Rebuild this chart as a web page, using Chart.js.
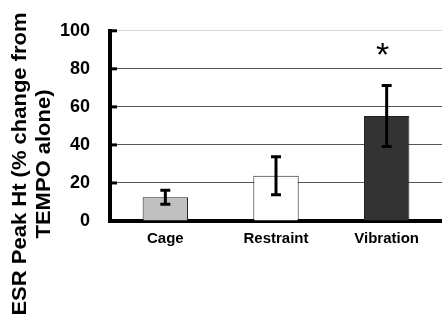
<!DOCTYPE html>
<html>
<head>
<meta charset="utf-8">
<script src="https://cdn.jsdelivr.net/npm/chart.js@4.4.1/dist/chart.umd.min.js"></script>
<style>
    html, body { margin: 0; padding: 0; background: #fff; }
    #wrap { width: 442px; height: 320px; position: relative; }
</style>
</head>
<body>
<div id="wrap"><canvas id="esrChart"></canvas></div>
<script>
// Données du graphique
const categories = ['Cage', 'Restraint', 'Vibration'];
const peakValues = [12.5, 23.8, 55.2];
const peakErrors = [3.7, 10, 16];
const barColors = ['#c0c0c0', '#ffffff', '#333333'];
const yTitleLines = ['ESR Peak Ht (% change from', 'TEMPO alone)'];
const markText = ['', '', '*'];
const markValue = 88;

const fontFamily = '"Liberation Sans", Arial, sans-serif';

// Barres d'erreur + astérisque
const errorBarsPlugin = {
    id: 'errorBars',
    afterDatasetsDraw(chart) {
        const ctx = chart.ctx;
        const meta = chart.getDatasetMeta(0);
        const y = chart.scales.y;
        ctx.save();
        ctx.strokeStyle = '#000';
        ctx.lineWidth = 3;
        meta.data.forEach((bar, i) => {
            const top = y.getPixelForValue(peakValues[i] + peakErrors[i]);
            const bottom = y.getPixelForValue(peakValues[i] - peakErrors[i]);
            ctx.beginPath();
            ctx.moveTo(bar.x, top);
            ctx.lineTo(bar.x, bottom);
            ctx.moveTo(bar.x - 5, top);
            ctx.lineTo(bar.x + 5, top);
            ctx.moveTo(bar.x - 5, bottom);
            ctx.lineTo(bar.x + 5, bottom);
            ctx.stroke();
            if (markText[i]) {
                ctx.fillStyle = '#000';
                ctx.font = '34px ' + fontFamily;
                ctx.textAlign = 'center';
                ctx.textBaseline = 'alphabetic';
                ctx.fillText(markText[i], bar.x - 4, y.getPixelForValue(markValue) + 12);
            }
        });
        ctx.restore();
    }
};

// Petits traits de graduation vers l'intérieur + titre de l'axe Y
const axisPlugin = {
    id: 'axisExtras',
    afterDraw(chart) {
        const ctx = chart.ctx;
        const y = chart.scales.y;
        const left = chart.chartArea.left;
        ctx.save();
        ctx.strokeStyle = '#000';
        ctx.lineWidth = 3;
        y.ticks.forEach(t => {
            const py = y.getPixelForValue(t.value);
            ctx.beginPath();
            ctx.moveTo(left - 2, py);
            ctx.lineTo(left + 7, py);
            ctx.stroke();
        });

        const midY = chart.height / 2 + 4;
        ctx.fillStyle = '#000';
        ctx.font = 'bold 22px ' + fontFamily;
        ctx.textAlign = 'center';
        ctx.textBaseline = 'alphabetic';
        yTitleLines.forEach((line, i) => {
            ctx.save();
            ctx.translate(26 + i * 24, midY);
            ctx.rotate(-Math.PI / 2);
            ctx.scale(1, 0.88);
            ctx.fillText(line, 0, 0);
            ctx.restore();
        });
        ctx.restore();
    }
};

new Chart(document.getElementById('esrChart'), {
    type: 'bar',
    data: {
        labels: categories,
        datasets: [{
            data: peakValues,
            backgroundColor: barColors,
            borderColor: '#222',
            borderWidth: 1,
            barPercentage: 0.41,
            categoryPercentage: 1
        }]
    },
    options: {
        responsive: true,
        maintainAspectRatio: false,
        animation: false,
        layout: {
            padding: { top: 19, right: 0, left: 0, bottom: 0 }
        },
        plugins: {
            legend: { display: false },
            tooltip: { enabled: false }
        },
        scales: {
            x: {
                afterFit(scale) { scale.height = 99; },
                grid: { display: false, drawTicks: false },
                border: { display: true, color: '#000', width: 4 },
                ticks: {
                    color: '#000',
                    padding: 9,
                    font: { family: fontFamily, size: 15, weight: 'bold' }
                }
            },
            y: {
                min: 0,
                max: 100,
                afterFit(scale) { scale.width = 110; },
                grid: {
                    drawTicks: false,
                    lineWidth: 1,
                    color: c => c.tick && c.tick.value === 100 ? '#d6d6d6' : '#555'
                },
                border: { display: true, color: '#000', width: 4 },
                ticks: {
                    stepSize: 20,
                    color: '#000',
                    padding: 20,
                    font: { family: fontFamily, size: 18, weight: 'bold' }
                }
            }
        }
    },
    plugins: [errorBarsPlugin, axisPlugin]
});
</script>
</body>
</html>
